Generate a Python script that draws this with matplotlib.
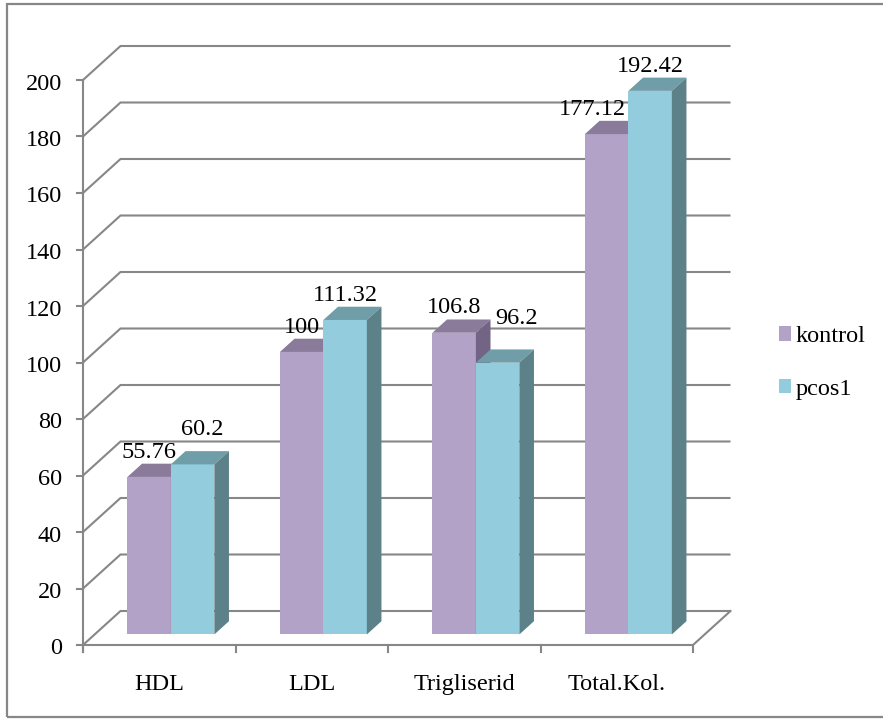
import matplotlib.pyplot as plt
from matplotlib.patches import Polygon, Rectangle, Patch
import numpy as np

plt.rcParams['font.family'] = ['Liberation Serif', 'DejaVu Serif']

categories = ['HDL', 'LDL', 'Trigliserid', 'Total.Kol.']
series_names = ['kontrol', 'pcos1']
kontrol = [55.76, 100, 106.8, 177.12]
pcos1 = [60.2, 111.32, 96.2, 192.42]
yticks = np.arange(0, 201, 20)

# front, top, side shades per series
shades = [
    ('#b3a2c7', '#8a7b9b', '#716484'),
    ('#93cddd', '#6f9ea9', '#5d8189'),
]
grid_color = '#878787'
fs = 17.5

# nudges (pixels) for value labels that would otherwise collide
label_nudge = [
    [(0, 0), (0, 0), (0, 0), (-14, 0)],
    [(10, 10), (0, 0), (19, 19), (0, 0)],
]

W, H = 883, 720
fig = plt.figure(figsize=(W / 100, H / 100), dpi=100, facecolor='white')
ax = fig.add_axes([0, 0, 1, 1])

# front-left floor corner sits at pixel (83, 645); 152.5 px per category, 2.825 px per unit
ox, oy, sx, sy = 83, 645, 152.5, 2.825
ax.set_xlim(-ox / sx, (W - ox) / sx)
ax.set_ylim(-(H - oy) / sy, oy / sy)
ax.axis('off')
px, py = 1 / sx, 1 / sy

# receding depth of the box
DX, DY = 37.5 * px, 34 * py
n = len(categories)

# walls: side-wall diagonals and back-wall gridlines
for v in yticks:
    ax.plot([0, DX, n + DX], [v, v + DY, v + DY], color=grid_color, lw=1.5,
            zorder=1, solid_joinstyle='miter', solid_capstyle='butt')

# floor edges, value axis and tick marks
ax.plot([0, n, n + DX], [0, 0, DY], color=grid_color, lw=1.5, zorder=1,
        solid_joinstyle='miter')
ax.plot([0, 0], [-7 * py, yticks[-1]], color=grid_color, lw=1.5, zorder=1)
for v in yticks:
    ax.plot([-6 * px, 0], [v, v], color=grid_color, lw=1.5, zorder=1)
    ax.annotate(f'{v}', xy=(0, v), xytext=(-21, -4), textcoords='offset pixels',
                ha='right', va='center', fontsize=fs, color='black')
for i in range(n + 1):
    ax.plot([i, i], [0, -7 * py], color=grid_color, lw=1.5, zorder=1)
for i, cat in enumerate(categories):
    ax.annotate(cat, xy=(i + 0.5, 0), xytext=(0, -45), textcoords='offset pixels',
                ha='center', va='baseline', fontsize=fs, color='black')

# 3-D bars
bw = 0.285
start = (1 - 2 * bw) / 2
D0, DD = 0.31, 0.39
ddx, ddy = DD * DX, DD * DY
for i in range(n):
    for j, vals in enumerate([kontrol, pcos1]):
        v = vals[i]
        front_c, top_c, side_c = shades[j]
        x0 = i + start + j * bw + D0 * DX
        y0 = D0 * DY
        z = 3 + i * 2 + j
        ax.add_patch(Rectangle((x0, y0), bw, v, facecolor=front_c,
                               edgecolor='none', zorder=z))
        ax.add_patch(Polygon([(x0, y0 + v), (x0 + bw, y0 + v),
                              (x0 + bw + ddx, y0 + v + ddy), (x0 + ddx, y0 + v + ddy)],
                             closed=True, facecolor=top_c, edgecolor='none', zorder=z))
        ax.add_patch(Polygon([(x0 + bw, y0), (x0 + bw + ddx, y0 + ddy),
                              (x0 + bw + ddx, y0 + v + ddy), (x0 + bw, y0 + v)],
                             closed=True, facecolor=side_c, edgecolor='none', zorder=z))
        nx, ny = label_nudge[j][i]
        ax.annotate(f'{v:g}', xy=(x0 + bw / 2, y0 + v + ddy), xytext=(nx, 6 + ny),
                    textcoords='offset pixels', ha='center', va='baseline',
                    fontsize=fs, color='black', zorder=20)

handles = [Patch(facecolor=shades[k][0], edgecolor='none') for k in range(2)]
fig.legend(handles, series_names, loc='center left',
           bbox_to_anchor=(779 / W, 1 - 363 / H), frameon=False,
           fontsize=fs, handlelength=0.5, handleheight=0.54,
           handletextpad=0.17, labelspacing=1.3, borderpad=0, borderaxespad=0)

# chart frame
fig.add_artist(Rectangle((7 / W, 1 - 717 / H), 1.0, (717 - 3.5) / H,
                         transform=fig.transFigure, fill=False,
                         edgecolor=grid_color, lw=1.6))

fig.savefig('out.png', dpi=100, facecolor='white')
